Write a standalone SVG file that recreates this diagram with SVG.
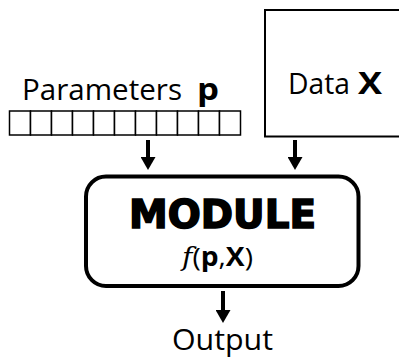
<svg xmlns="http://www.w3.org/2000/svg" width="399" height="358" viewBox="0 0 399 358">
<style>
.lbl{font-family:"Open Sans","Noto Sans","DejaVu Sans",sans-serif;font-size:30px;fill:#000}
.b{font-weight:bold}
.cell{fill:#fff;stroke:#000;stroke-width:1.5}
.conn{stroke:#000;stroke-width:4;fill:none}
</style>
<defs>
<marker id="ah" viewBox="0 0 13 15" refX="0" refY="7.5" markerWidth="13" markerHeight="15" markerUnits="userSpaceOnUse" orient="auto">
<path d="M0,0 L13,7.5 L0,15 Z" fill="#000"/>
</marker>
</defs>
<rect width="399" height="358" fill="#fff"/>
<g id="params">
<text class="lbl" x="22" y="100" textLength="160" lengthAdjust="spacingAndGlyphs">Parameters</text>
<text class="lbl b" x="197" y="100" textLength="22" lengthAdjust="spacingAndGlyphs">p</text>
<rect class="cell" x="9.5" y="111" width="21" height="24"/>
<rect class="cell" x="30.5" y="111" width="21" height="24"/>
<rect class="cell" x="51.5" y="111" width="21" height="24"/>
<rect class="cell" x="72.5" y="111" width="21" height="24"/>
<rect class="cell" x="93.5" y="111" width="21" height="24"/>
<rect class="cell" x="114.5" y="111" width="21" height="24"/>
<rect class="cell" x="135.5" y="111" width="21" height="24"/>
<rect class="cell" x="156.5" y="111" width="21" height="24"/>
<rect class="cell" x="177.5" y="111" width="21" height="24"/>
<rect class="cell" x="198.5" y="111" width="21" height="24"/>
<rect class="cell" x="219.5" y="111" width="21" height="24"/>
</g>
<g id="data">
<rect x="265" y="10" width="150" height="126.5" fill="#fff" stroke="#000" stroke-width="2"/>
<text class="lbl" x="288" y="94" textLength="62" lengthAdjust="spacingAndGlyphs">Data</text>
<text class="lbl b" x="358" y="94" textLength="24" lengthAdjust="spacingAndGlyphs">X</text>
</g>
<g id="module">
<rect x="86" y="176.5" width="272.5" height="109.5" rx="20" ry="20" fill="#fff" stroke="#000" stroke-width="4"/>
<text x="222.5" y="228" text-anchor="middle" font-family="'DejaVu Sans',sans-serif" font-weight="bold" font-size="39" stroke="#000" stroke-width="1.6" textLength="187" lengthAdjust="spacingAndGlyphs">MODULE</text>
<text x="182" y="266" font-family="'Open Sans','Noto Sans',sans-serif" font-size="26" textLength="71" lengthAdjust="spacingAndGlyphs"><tspan font-style="italic" font-family="'DejaVu Serif',serif">f</tspan>(<tspan font-weight="bold">p</tspan>,<tspan font-weight="bold">X</tspan>)</text>
</g>
<g id="output">
<text class="lbl" x="172" y="350" textLength="101" lengthAdjust="spacingAndGlyphs">Output</text>
</g>
<g id="connectors">
<line class="conn" x1="148" y1="140" x2="148" y2="157" marker-end="url(#ah)"/>
<line class="conn" x1="295" y1="140" x2="295" y2="157" marker-end="url(#ah)"/>
<line class="conn" x1="223" y1="291" x2="223" y2="310" marker-end="url(#ah)"/>
</g>
</svg>
